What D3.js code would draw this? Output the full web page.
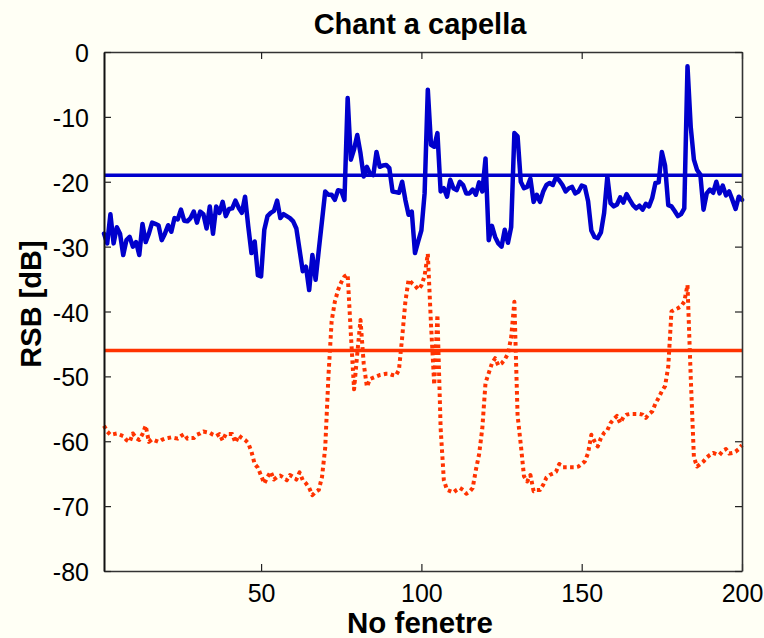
<!DOCTYPE html>
<html>
<head>
<meta charset="utf-8">
<script src="https://cdn.jsdelivr.net/npm/d3@7"></script>
<style>
  html, body { margin: 0; padding: 0; background: #fffff5; }
  svg { display: block; }
  text { font-family: "Liberation Sans", Arial, Helvetica, sans-serif; fill: #000; }
</style>
</head>
<body>
<svg id="chart" width="764" height="638"></svg>
<script>
// Signal-to-noise ratio (RSB) per analysis window, two processing variants
const titleText = "Chant a capella";
const xLabel = "No fenetre";
const yLabel = "RSB [dB]";

const xTicks = [50, 100, 150, 200];
const yTicks = [0, -10, -20, -30, -40, -50, -60, -70, -80];

// window index 1..200
const blueRsb = [
  -28, -29.5, -25, -29.5, -27, -28, -31.3, -29, -28.5, -30,
  -29.3, -31.3, -26.5, -29.3, -28, -26.3, -26.5, -26.7, -29, -28,
  -26.7, -27.7, -25.6, -25.8, -24.3, -26, -26.1, -25.6, -24.6, -26.3,
  -24.6, -25, -27.2, -23.8, -28, -23.8, -24.8, -23.1, -25.3, -24.2,
  -24.1, -22.9, -24, -24.8, -22.3, -26.9, -31, -29.2, -34.4, -34.6,
  -27.4, -25.3, -24.8, -24.5, -22.9, -25.6, -25, -25.3, -25.6, -26.1,
  -27.2, -30.5, -33.8, -33.1, -36.7, -31.3, -35.1, -30.5, -26, -21.5,
  -22, -22, -22.8, -21.3, -21.4, -22.8, -7.1, -16.6, -15, -12.8,
  -15.6, -19.2, -17.7, -18.8, -19, -15.4, -17.7, -17.5, -17.4, -17.9,
  -21.5, -21.6, -21.7, -20, -22.8, -25.1, -24.6, -31, -29.2, -27.5,
  -21.8, -5.8, -14.3, -14.6, -12.5, -21.5, -21, -22.3, -19.7, -21,
  -21.3, -20, -20.5, -21.8, -21.8, -21.2, -22, -20.1, -21.5, -16.4,
  -29, -26.8, -28.5, -29.5, -30, -27.4, -29.4, -27, -12.5, -13,
  -20, -21, -20.8, -19.5, -23.1, -22, -23.1, -21.5, -20.5, -20.2,
  -20.5, -19.3, -19.8, -20.5, -21.5, -21, -20.8, -21.8, -21.5, -20.6,
  -20.8, -23, -27.5, -28.5, -28.7, -27.8, -24.8, -19.2, -23.3, -23.8,
  -23.5, -22.4, -23.2, -21.9, -22.8, -23.6, -24.1, -23.7, -24.3, -23.4,
  -23.8, -22.5, -20.2, -20.1, -15.4, -17.5, -23.6, -23.8, -24.5, -25.3,
  -25, -24.1, -2.2, -11.5, -16.6, -18.2, -18.9, -24.3, -21.8, -21.2,
  -21.7, -20, -21.8, -20.6, -22.1, -21.5, -22.8, -24.2, -22.3, -22.8
];

const redRsb = [
  -57.6, -58.5, -59, -58.9, -58.8, -59, -59.2, -59.8, -60.1, -58.8,
  -59.5, -59.8, -58.9, -57.6, -60.1, -59.7, -59.9, -60.1, -59.8, -59.6,
  -59.5, -59.4, -59.5, -59.6, -59.2, -58.9, -59.6, -59.5, -59.5, -59,
  -58.8, -58.5, -58.6, -58.7, -59, -59.2, -58.9, -59.9, -58.9, -58.9,
  -58.9, -60.2, -59.1, -59.5, -59.8, -60.3, -61.6, -63.5, -64.1, -65.3,
  -66.5, -65.5, -64.7, -65.9, -65.5, -65.3, -65.6, -66, -65.2, -65.5,
  -65.9, -64.8, -66, -66.5, -67.2, -68.3, -67.8, -67.5, -65.5, -61,
  -50, -41.5, -38.5, -36.7, -35.5, -34.6, -34.3, -43.5, -52, -46.5,
  -41.3, -48, -51.6, -50.4, -50.2, -50, -49.8, -49.7, -49.6, -49.6,
  -49.8, -49.9, -49, -44, -38.5, -35.1, -35.6, -36, -36.6, -36,
  -34.5, -31.1, -42, -51.3, -40.5, -58, -66, -67.5, -67.7, -67.9,
  -67.5, -67.2, -67.5, -68.1, -67.8, -67.2, -64.4, -62, -58, -51,
  -49.5, -48, -47.2, -48.3, -48, -47.4, -46.5, -44, -38.5, -56,
  -60.5, -65.4, -66.2, -65.2, -67.7, -67.5, -67.5, -66.7, -65.6, -65.2,
  -65, -64.7, -63.5, -64, -64, -64, -64, -64, -63.9, -63.5,
  -63.1, -61.8, -59, -60, -60.8, -59.5, -58.7, -58.3, -57.2, -56.6,
  -56.1, -57.2, -56.3, -55.9, -55.8, -55.8, -55.8, -55.8, -55.9, -56.4,
  -55.8, -55.4, -54.2, -53.3, -52.3, -51.5, -48.5, -40, -39.7, -39.5,
  -39.2, -38.5, -35.9, -50, -62.5, -63.9, -63.5, -63.1, -62.5, -62.1,
  -61.8, -62, -62.1, -61.5, -61.2, -61.9, -61.8, -61.6, -61.2, -60.6
];

// mean levels drawn as horizontal reference lines
const blueMean = -19;
const redMean = -46;

const xDomain = [1, 200];
const yDomain = [-80, 0];

const svg = d3.select("#chart");
const W = 764, H = 638;
const plot = { left: 104, right: 742, top: 52, bottom: 571 };

svg.append("rect").attr("width", W).attr("height", H).attr("fill", "#fffff5");

const x = d3.scaleLinear().domain(xDomain).range([plot.left, plot.right]);
const y = d3.scaleLinear().domain(yDomain).range([plot.bottom, plot.top]);

const line = d3.line()
  .x((d, i) => x(i + 1))
  .y(d => y(d));

const hline = v => d3.line().x(d => x(d)).y(() => y(v))(xDomain);

const g = svg.append("g");

// reference levels
g.append("path").attr("d", hline(blueMean))
  .attr("fill", "none").attr("stroke", "#0000cc").attr("stroke-width", 3.5);
g.append("path").attr("d", hline(redMean))
  .attr("fill", "none").attr("stroke", "#ff3300").attr("stroke-width", 3.5);

// series
g.append("path").datum(redRsb).attr("d", line)
  .attr("fill", "none").attr("stroke", "#ff3300").attr("stroke-width", 4)
  .attr("stroke-dasharray", "3.6,3.4").attr("stroke-linejoin", "round");
g.append("path").datum(blueRsb).attr("d", line)
  .attr("fill", "none").attr("stroke", "#0000cc").attr("stroke-width", 4.5)
  .attr("stroke-linejoin", "round").attr("stroke-linecap", "round");

// axes (ticks point inward on all four sides)
const fmt = d => String(d);
const tickLen = 7;

function styleAxis(sel, fontSize) {
  sel.select(".domain").attr("stroke", "#333").attr("stroke-width", 1.6);
  sel.selectAll(".tick line").attr("stroke", "#222").attr("stroke-width", 1.2);
  sel.selectAll(".tick text")
    .style("font-family", "'Liberation Sans', Arial, sans-serif")
    .style("font-size", fontSize + "px").attr("fill", "#000");
}

const axB = svg.append("g").attr("transform", `translate(0,${plot.bottom})`)
  .call(d3.axisBottom(x).tickValues(xTicks).tickFormat(fmt)
    .tickSizeInner(-tickLen).tickSizeOuter(0).tickPadding(13));
styleAxis(axB, 25);

const axT = svg.append("g").attr("transform", `translate(0,${plot.top})`)
  .call(d3.axisTop(x).tickValues(xTicks).tickFormat("")
    .tickSizeInner(-tickLen).tickSizeOuter(0));
styleAxis(axT, 25);

const axL = svg.append("g").attr("transform", `translate(${plot.left},0)`)
  .call(d3.axisLeft(y).tickValues(yTicks).tickFormat(fmt)
    .tickSizeInner(-tickLen).tickSizeOuter(0).tickPadding(15));
styleAxis(axL, 25);
axL.select(".domain").attr("stroke", "#111").attr("stroke-width", 2);
axL.selectAll(".tick text").attr("dy", "0.38em");

const axR = svg.append("g").attr("transform", `translate(${plot.right},0)`)
  .call(d3.axisRight(y).tickValues(yTicks).tickFormat("")
    .tickSizeInner(-tickLen).tickSizeOuter(0));
styleAxis(axR, 25);

// labels
svg.append("text").attr("x", 420).attr("y", 34)
  .attr("text-anchor", "middle").style("font-size", "29px").style("font-weight", "bold")
  .text(titleText);

svg.append("text").attr("x", 420).attr("y", 633)
  .attr("text-anchor", "middle").style("font-size", "29.5px").style("font-weight", "bold")
  .text(xLabel);

svg.append("text").attr("transform", "translate(41,304) rotate(-90)")
  .attr("text-anchor", "middle").style("font-size", "29px").style("font-weight", "bold")
  .text(yLabel);
</script>
</body>
</html>
